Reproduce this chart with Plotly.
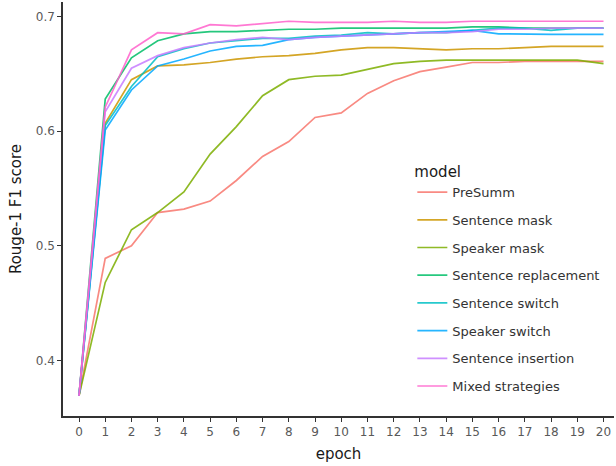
import plotly.graph_objects as go

epochs = list(range(21))

models = ["PreSumm", "Sentence mask", "Speaker mask", "Sentence replacement",
          "Sentence switch", "Speaker switch", "Sentence insertion", "Mixed strategies"]

presumm = [0.369, 0.489, 0.500, 0.529, 0.532, 0.539, 0.557, 0.578, 0.591, 0.612, 0.616,
           0.633, 0.644, 0.652, 0.656, 0.660, 0.660, 0.661, 0.661, 0.661, 0.661]
sentence_mask = [0.369, 0.607, 0.645, 0.657, 0.658, 0.660, 0.663, 0.665, 0.666, 0.668, 0.671,
                 0.673, 0.673, 0.672, 0.671, 0.672, 0.672, 0.673, 0.674, 0.674, 0.674]
speaker_mask = [0.369, 0.468, 0.514, 0.529, 0.547, 0.580, 0.604, 0.631, 0.645, 0.648, 0.649,
                0.654, 0.659, 0.661, 0.662, 0.662, 0.662, 0.662, 0.662, 0.662, 0.659]
sentence_replacement = [0.369, 0.628, 0.664, 0.679, 0.685, 0.687, 0.687, 0.688, 0.689, 0.689, 0.690,
                        0.690, 0.690, 0.690, 0.690, 0.691, 0.691, 0.690, 0.690, 0.690, 0.690]
sentence_switch = [0.369, 0.605, 0.639, 0.665, 0.672, 0.677, 0.679, 0.681, 0.681, 0.683, 0.684,
                   0.686, 0.685, 0.686, 0.686, 0.688, 0.690, 0.690, 0.688, 0.690, 0.690]
speaker_switch = [0.369, 0.601, 0.636, 0.657, 0.663, 0.670, 0.674, 0.675, 0.680, 0.682, 0.683,
                  0.684, 0.685, 0.686, 0.687, 0.688, 0.685, 0.6845, 0.6845, 0.6845, 0.6845]
sentence_insertion = [0.369, 0.617, 0.655, 0.666, 0.673, 0.677, 0.680, 0.682, 0.680, 0.682, 0.683,
                      0.684, 0.685, 0.686, 0.686, 0.687, 0.689, 0.689, 0.690, 0.690, 0.690]
mixed_strategies = [0.369, 0.621, 0.671, 0.686, 0.685, 0.693, 0.692, 0.694, 0.696, 0.695, 0.695,
                    0.695, 0.696, 0.695, 0.695, 0.696, 0.696, 0.696, 0.696, 0.696, 0.696]

series = [presumm, sentence_mask, speaker_mask, sentence_replacement,
          sentence_switch, speaker_switch, sentence_insertion, mixed_strategies]
colors = ["#F8766D", "#CD9600", "#7CAE00", "#00BE67", "#00BFC4", "#00A9FF", "#C77CFF", "#FF61CC"]

y_ticks = [0.4, 0.5, 0.6, 0.7]

FONT = "DejaVu Sans"

fig = go.Figure()
for name, vals, col in zip(models, series, colors):
    fig.add_trace(go.Scatter(
        x=epochs, y=vals, mode="lines", name=name, legendgroup=name,
        line=dict(color=col, width=1.7), opacity=0.85,
    ))

fig.update_layout(
    width=616, height=466,
    margin=dict(l=63, r=2, t=2, b=50, autoexpand=False),
    plot_bgcolor="white", paper_bgcolor="white",
    font=dict(family=FONT, color="#1a1a1a"),
    showlegend=True,
    legend=dict(
        x=0.634, y=0.624, xanchor="left", yanchor="top",
        title=dict(text="model", font=dict(size=15, family=FONT, color="#1a1a1a")),
        font=dict(size=13, family=FONT, color="#333333"),
        tracegroupgap=7.8,
        bgcolor="rgba(0,0,0,0)",
    ),
    xaxis=dict(
        range=[-0.61, 20.4], tickmode="array", tickvals=epochs,
        ticktext=[str(e) for e in epochs], automargin=False,
        showgrid=False, zeroline=False, showline=True, linecolor="#333333", linewidth=1.5,
        ticks="outside", ticklen=4, tickcolor="#333333", tickwidth=1.2,
        ticklabelstandoff=0,
        tickfont=dict(size=12, family=FONT, color="#595959"),
        title=dict(text="epoch", font=dict(size=15, family=FONT, color="#1a1a1a"), standoff=10),
    ),
    yaxis=dict(
        range=[0.3514, 0.7128], tickmode="array", tickvals=y_ticks,
        ticktext=[f"{v:.1f}" for v in y_ticks], automargin=False,
        showgrid=False, zeroline=False, showline=True, linecolor="#333333", linewidth=1.5,
        ticks="outside", ticklen=4, tickcolor="#333333", tickwidth=1.2,
        tickfont=dict(size=12, family=FONT, color="#595959"),
        title=dict(text="Rouge-1 F1 score", font=dict(size=15, family=FONT, color="#1a1a1a"), standoff=11),
    ),
)

fig.write_html("out.html", config={"displayModeBar": False},
               post_script="document.body.style.margin='0';")
